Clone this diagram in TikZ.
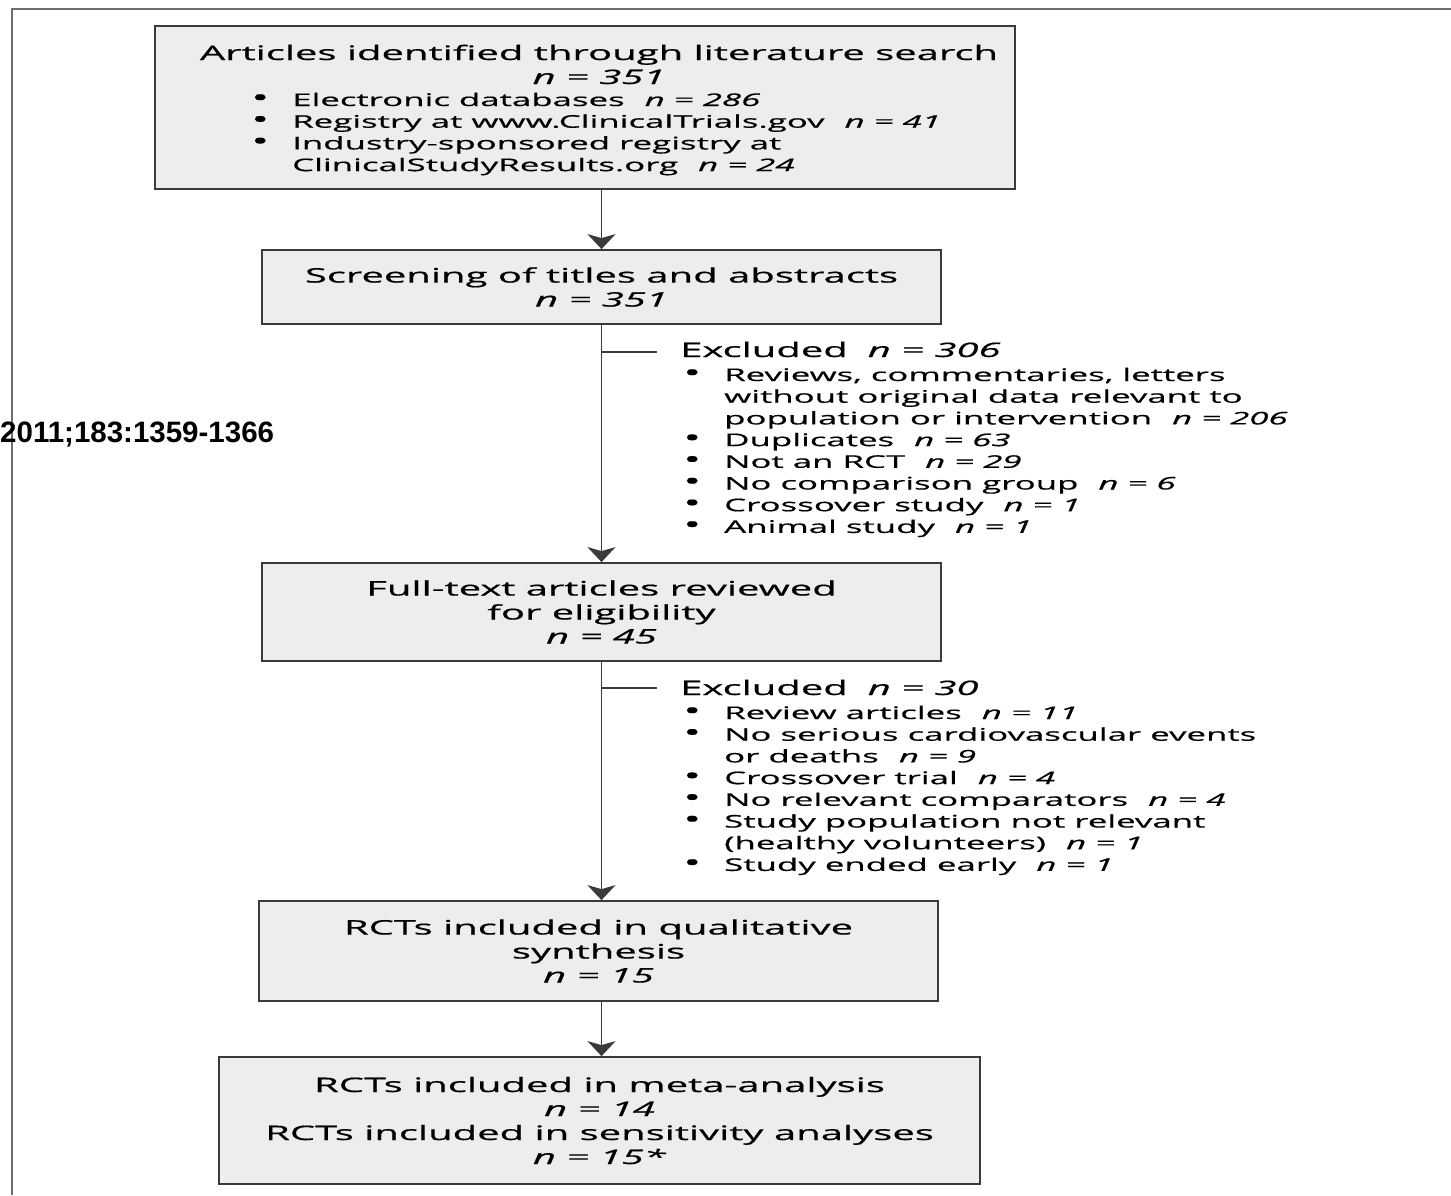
\documentclass[tikz,border=0pt]{standalone}
\usepackage{fontspec}
\setmainfont{Open Sans}[FakeStretch=2.0, FakeBold=0.6]
\newfontfamily\citefont{Liberation Sans}
\usetikzlibrary{arrows.meta}
\definecolor{boxfill}{HTML}{EDEDEF}
\definecolor{boxline}{HTML}{3A3A3A}
\definecolor{framec}{HTML}{6E6E6E}
\newcommand\nv[1]{\textit{n = #1}}
\newcommand\gap{\hspace{20pt}}
\newcommand\bl{\makebox[41pt][l]{\fontsize{24}{0}\selectfont •}}
\newcommand\ind{\hspace*{41pt}}
\begin{document}
\begin{tikzpicture}[x=1pt,y=-1pt,
  box/.style={draw=boxline, fill=boxfill, line width=1.8pt, inner sep=0pt,
    align=center, font=\fontsize{20}{24}\selectfont},
  hdr/.style={inner sep=0pt, font=\fontsize{20}{24}\selectfont, anchor=base},
  lst/.style={inner sep=0pt, font=\fontsize{17.4}{21.7}\selectfont, anchor=base west},
  xh/.style={inner sep=0pt, font=\fontsize{20}{24}\selectfont, anchor=base west},
  conn/.style={draw=boxline, line width=1.8pt},
  arr/.style={conn, -{Stealth[length=15pt,width=28pt,inset=4pt]}}]
\useasboundingbox (0,0) rectangle (1451,1195);
\draw[framec, line width=2.5pt] (12,1195) -- (12,9) -- (1451,9);
% boxes
\node[box, minimum width=860pt, minimum height=163pt] (b1) at (585,107.5) {};
\node[hdr] (h1) at (599,60) {\begin{tabular}[t]{@{}c@{}}Articles identified through literature search\\ \nv{351}\end{tabular}};
\node[lst] (l1) at (251,106) {\begin{tabular}[t]{@{}l@{}}
\bl Electronic databases\gap\nv{286}\\
\bl Registry at www.ClinicalTrials.gov\gap\nv{41}\\
\bl Industry-sponsored registry at\\
\ind ClinicalStudyResults.org\gap\nv{24}
\end{tabular}};
\node[box, minimum width=679pt, minimum height=74pt] (b2) at (601.5,287) {Screening of titles and abstracts\\ \nv{351}};
\node[box, minimum width=679pt, minimum height=98pt] (b3) at (601.5,612) {Full-text articles reviewed\\for eligibility\\ \nv{45}};
\node[box, minimum width=679pt, minimum height=100pt] (b4) at (598.5,951) {RCTs included in qualitative\\synthesis\\ \nv{15}};
\node[box, minimum width=761pt, minimum height=127pt] (b5) at (599.5,1120.5) {RCTs included in meta-analysis\\ \nv{14}\\RCTs included in sensitivity analyses\\ \nv{15*}};
% exclusions
\node[xh] (x1h) at (680,357) {Excluded\gap\nv{306}};
\node[lst] (x1l) at (683,381) {\begin{tabular}[t]{@{}l@{}}
\bl Reviews, commentaries, letters\\
\ind without original data relevant to\\
\ind population or intervention\gap\nv{206}\\
\bl Duplicates\gap\nv{63}\\
\bl Not an RCT\gap\nv{29}\\
\bl No comparison group\gap\nv{6}\\
\bl Crossover study\gap\nv{1}\\
\bl Animal study\gap\nv{1}
\end{tabular}};
\node[xh] (x2h) at (680,695) {Excluded\gap\nv{30}};
\node[lst] (x2l) at (683,719) {\begin{tabular}[t]{@{}l@{}}
\bl Review articles\gap\nv{11}\\
\bl No serious cardiovascular events\\
\ind or deaths\gap\nv{9}\\
\bl Crossover trial\gap\nv{4}\\
\bl No relevant comparators\gap\nv{4}\\
\bl Study population not relevant\\
\ind (healthy volunteers)\gap\nv{1}\\
\bl Study ended early\gap\nv{1}
\end{tabular}};
% citation
\node[anchor=base west, inner sep=0pt, font=\citefont\bfseries\fontsize{29.5}{32}\selectfont] (cite) at (0,442) {2011;183:1359-1366};
% connectors
\draw[arr] (b1.south -| b2.north) -- (b2.north);
\draw[arr] (b2.south) -- (b3.north);
\draw[arr] (b3.south) -- (b3.south |- b4.north);
\draw[arr] (b4.south -| b3.south) -- (b3.south |- b5.north);
\coordinate (e1) at (657,352);
\coordinate (e2) at (657,688);
\draw[conn] (b2.south |- e1) -- (e1);
\draw[conn] (b3.south |- e2) -- (e2);
\end{tikzpicture}
\end{document}
